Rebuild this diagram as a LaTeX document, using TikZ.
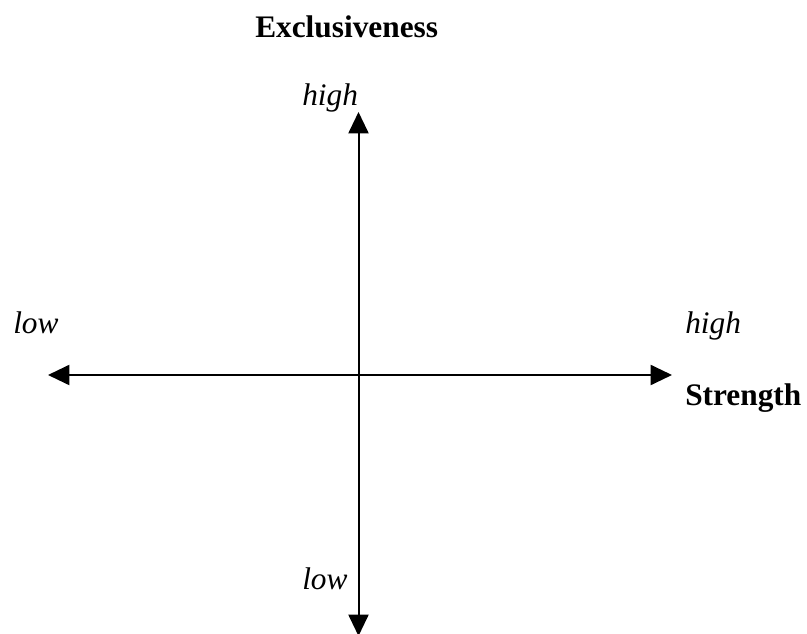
\documentclass[tikz,border=0pt]{standalone}
\usepackage{fontspec}
\setmainfont{Liberation Serif}
\usetikzlibrary{arrows.meta}
\tikzset{
  lbl/.style={inner sep=0pt,anchor=base west,font=\fontsize{23.5}{28}\selectfont},
  axis/.style={line width=1.5pt,{Triangle[length=16pt,width=15pt]}-{Triangle[length=16pt,width=15pt]}}
}
\begin{document}
\begin{tikzpicture}[x=0.75pt,y=-0.75pt]
\useasboundingbox (0,0) rectangle (807,634);
\coordinate (W) at (48,375);
\coordinate (E) at (672,375);
\coordinate (N) at (358.5,112);
\coordinate (S) at (358.5,636);
\draw[axis] (W)--(E);
\draw[axis] (N)--(S);
\node[lbl] (excl) at (255,38) {\textbf{Exclusiveness}};
\node[lbl] (str) at (685,406) {\textbf{Strength}};
\node[lbl] (nhigh) at (302,106) {\textit{high}};
\node[lbl] (slow) at (302,589) {\textit{low}};
\node[lbl] (wlow) at (13,334) {\textit{low}};
\node[lbl] (ehigh) at (685,334) {\textit{high}};
\end{tikzpicture}
\end{document}
